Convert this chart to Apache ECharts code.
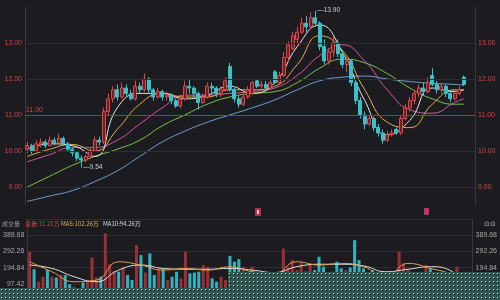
<!DOCTYPE html>
<html><head><meta charset="utf-8">
<script src="https://cdn.jsdelivr.net/npm/echarts@6/dist/echarts.min.js"></script>
<style>html,body{margin:0;padding:0;background:#1c1c20}#c{width:500px;height:300px}</style>
</head><body><div id="c"></div>
<script>
// ---- data ----
// candles: [open, close, low, high]
const candles = [
[10.05,10.15,9.95,10.25],[10.15,10.0,9.92,10.2],[10.0,10.2,9.98,10.3],[10.2,10.25,10.1,10.35],
[10.25,10.15,10.08,10.32],[10.15,10.3,10.12,10.4],[10.3,10.22,10.15,10.38],[10.22,10.35,10.18,10.48],
[10.35,10.2,10.15,10.4],[10.2,10.05,9.98,10.25],[10.05,9.95,9.85,10.1],[9.95,9.8,9.72,10.0],
[9.8,9.75,9.54,9.88],[9.75,9.85,9.68,9.9],[9.85,10.0,9.8,10.1],[10.0,10.3,9.98,10.4],
[10.3,10.25,10.15,10.4],[10.25,11.1,10.2,11.2],[11.1,11.45,11.0,11.6],[11.45,11.7,11.35,11.8],
[11.7,11.5,11.4,11.85],[11.5,11.75,11.45,11.9],[11.75,11.6,11.5,11.85],[11.6,11.45,11.4,11.7],
[11.45,11.8,11.4,11.95],[11.8,11.7,11.6,11.9],[11.7,12.0,11.65,12.15],[12.0,11.7,11.6,12.05],
[11.7,11.5,11.4,11.75],[11.5,11.65,11.45,11.75],[11.65,11.5,11.4,11.7],[11.5,11.55,11.4,11.65],
[11.55,11.4,11.3,11.6],[11.4,11.25,11.2,11.45],[11.25,11.45,11.2,11.5],[11.45,11.8,11.4,11.95],
[11.8,11.75,11.6,12.0],[11.75,11.6,11.5,11.8],[11.6,11.35,11.15,11.65],[11.35,11.5,11.3,11.6],
[11.5,11.8,11.45,11.9],[11.8,11.75,11.6,11.9],[11.75,11.6,11.5,11.8],[11.6,11.7,11.5,11.8],
[11.7,11.95,11.65,12.05],[12.35,11.7,11.65,12.45],[11.7,11.45,11.35,11.75],[11.45,11.3,11.2,11.55],
[11.3,11.5,11.25,11.6],[11.5,11.7,11.45,11.8],[11.6,11.9,11.55,11.95],[11.95,11.8,11.75,12.0],
[11.8,11.85,11.7,11.95],[11.85,11.75,11.7,11.95],[11.75,11.9,11.7,12.0],[12.2,11.9,11.85,12.25],
[11.9,12.1,11.85,12.2],[12.1,12.6,12.05,12.75],[12.6,12.95,12.5,13.05],[12.85,13.2,12.8,13.3],
[13.1,13.3,13.0,13.45],[13.3,13.55,13.25,13.7],[13.55,13.45,13.3,13.75],[13.45,13.7,13.4,13.85],
[13.7,13.55,13.45,13.9],[13.55,12.9,12.8,13.6],[12.9,12.5,12.4,13.1],[12.5,12.75,12.4,12.85],
[12.75,13.0,12.6,13.2],[13.0,12.7,12.6,13.1],[12.7,12.4,12.3,12.8],[12.4,12.5,12.2,12.6],
[12.5,11.9,11.8,12.55],[11.9,11.4,11.3,12.0],[11.4,11.0,10.9,11.5],[11.0,10.75,10.6,11.1],
[10.75,10.9,10.7,11.0],[10.9,10.65,10.55,10.95],[10.65,10.5,10.4,10.75],[10.5,10.3,10.2,10.6],
[10.3,10.45,10.25,10.55],[10.45,10.5,10.4,10.6],[10.6,10.5,10.45,10.65],[10.5,10.9,10.45,11.0],
[10.9,11.2,10.85,11.3],[11.2,11.4,11.1,11.5],[11.4,11.6,11.3,11.7],[11.6,11.75,11.5,11.85],
[11.75,11.65,11.55,11.9],[11.65,11.9,11.6,12.05],[12.1,11.85,11.8,12.3],[11.85,11.7,11.6,11.95],
[11.7,11.8,11.6,11.9],[11.8,11.6,11.5,11.85],[11.6,11.45,11.35,11.65],[11.45,11.6,11.4,11.7],
[11.6,11.7,11.55,11.8],[12.05,11.85,11.8,12.1]
];
const volumes = [
290,185,110,140,180,140,135,150,150,95,75,60,105,120,255,135,140,400,215,175,
170,200,150,120,330,270,165,280,150,190,185,120,140,170,130,290,160,165,170,210,
200,130,110,140,120,265,230,245,200,120,200,130,110,100,120,150,170,310,200,240,
180,225,170,220,180,260,200,150,170,230,190,180,195,360,240,190,170,180,160,150,
130,120,140,290,220,180,160,150,140,210,190,130,120,110,140,100,200,71
];
// moving averages read at sampled candle indices: [index, value]
const ma5 = [[0,10.05],[5,10.2],[10,10.15],[15,9.85],[20,11.2],[25,11.6],[30,11.6],[35,11.45],[40,11.55],[45,11.8],[50,11.6],[55,11.9],[60,12.9],[65,13.5],[70,12.75],[75,11.4],[80,10.45],[85,10.85],[90,11.75],[95,11.65],[97,11.7]];
const ma10 = [[0,9.85],[5,10.05],[10,10.18],[15,10.0],[20,10.6],[25,11.3],[30,11.6],[35,11.5],[40,11.5],[45,11.7],[50,11.7],[55,11.8],[60,12.4],[65,13.2],[70,12.8],[75,11.7],[80,10.8],[85,10.65],[90,11.3],[95,11.7],[97,11.7]];
const ma20 = [[0,9.7],[5,9.9],[10,10.1],[15,10.1],[20,10.3],[25,10.75],[30,11.2],[35,11.55],[40,11.55],[45,11.6],[50,11.65],[55,11.75],[60,12.1],[65,12.65],[70,12.95],[75,12.5],[80,11.7],[85,11.15],[90,11.05],[95,11.35],[97,11.45]];
const ma30 = [[0,9.0],[5,9.3],[10,9.6],[15,9.85],[20,10.05],[25,10.3],[30,10.7],[35,11.0],[40,11.3],[45,11.5],[50,11.6],[55,11.65],[60,11.9],[65,12.3],[70,12.55],[75,12.45],[80,12.15],[85,11.75],[90,11.45],[95,11.3],[97,11.3]];
const ma60 = [[0,8.6],[5,8.75],[10,8.9],[15,9.15],[20,9.45],[25,9.85],[30,10.25],[35,10.55],[40,10.8],[45,11.0],[50,11.2],[55,11.42],[60,11.7],[65,11.95],[70,12.05],[75,12.08],[80,12.0],[85,11.93],[90,11.88],[95,11.85],[97,11.83]];
const volMa5 = [[0,230],[5,170],[10,110],[15,120],[20,230],[25,210],[30,180],[35,190],[40,180],[45,200],[50,170],[55,160],[60,230],[65,210],[70,220],[75,200],[80,140],[85,220],[90,190],[95,150],[97,102.26]];
const volMa10 = [[0,210],[5,190],[10,140],[15,110],[20,180],[25,210],[30,190],[35,185],[40,185],[45,190],[50,180],[55,165],[60,200],[65,215],[70,215],[75,205],[80,170],[85,185],[90,200],[95,170],[97,94.26]];
const priceGridLevels = [9, 10, 12, 13];
const keyLevel = 11;
const priceMin = 8.5, priceMax = 14, priceStep = 0.5;
const volMax = 487.1, volStep = 97.42;
const slotCount = 100;
const categories = Array.from({length: slotCount}, (_, i) => String(i + 1));
const volHeader = [
  {text: '成交量', color: '#9a9a9a'},
  {text: '总量:71.21万', color: '#d24a4f'},
  {text: 'MA5:102.26万', color: '#d9b44a'},
  {text: 'MA10:94.26万', color: '#dddddd'}
];

// ---- styles ----
const UP = '#e0474c', UPFILL = '#6a2226', DOWN = '#36c2c8';
const GRIDC = '#2c2c31', AXISC = '#3a3a40';
const NUMFONT = 'Liberation Sans';

let hiIdx = 0, loIdx = 0;
candles.forEach((c, i) => { if (c[3] > candles[hiIdx][3]) hiIdx = i; if (c[2] < candles[loIdx][2]) loIdx = i; });

const priceLabel = {
  fontSize: 7, color: '#c9484c', fontFamily: NUMFONT, margin: 3,
  formatter: v => (Math.abs(v - Math.round(v)) < 1e-6 && v >= 9 && v <= 13) ? v.toFixed(2) : ''
};
const volLabel = {
  fontSize: 7, color: '#a8a8a8', fontFamily: NUMFONT, margin: 3,
  formatter: v => (v > 1 && v < volMax - 1) ? v.toFixed(2) : ''
};

const tile = document.createElement('canvas'); tile.width = 4; tile.height = 4;
const tg = tile.getContext('2d');
tg.fillStyle = '#2d5854'; tg.fillRect(0, 0, 4, 4);
tg.fillStyle = '#d9e6e2'; tg.fillRect(1, 1, 1, 1);
tg.fillStyle = '#0e1c1a'; tg.fillRect(2, 2, 1, 1);

const headerGraphics = [];
const hLefts = [2, 25, 61, 103];
volHeader.forEach((h, i) => {
  headerGraphics.push({type: 'text', left: hLefts[i], top: 220.5, style: {text: h.text, fill: h.color, fontSize: 6, fontFamily: 'Noto Sans CJK SC'}, z: 50});
});

const lineS = (name, data, color, xi, yi) => ({
  name, type: 'line', data, xAxisIndex: xi, yAxisIndex: yi, smooth: true, symbol: 'none',
  lineStyle: {color, width: 1}, silent: true, z: 3
});

const chart = echarts.init(document.getElementById('c'), null, {renderer: 'canvas'});
chart.setOption({
  backgroundColor: '#1c1c20',
  animation: false,
  grid: [
    {left: 25, right: 25, top: 7, height: 198},
    {left: 25, right: 25, top: 219, height: 81}
  ],
  xAxis: [
    {type: 'category', data: categories, gridIndex: 0, boundaryGap: true,
     axisLine: {show: false}, axisTick: {show: false}, axisLabel: {show: false}, splitLine: {show: false}},
    {type: 'category', data: categories, gridIndex: 1, boundaryGap: true, position: 'top',
     axisLine: {show: true, lineStyle: {color: AXISC}}, axisTick: {show: false}, axisLabel: {show: false}, splitLine: {show: false}}
  ],
  yAxis: [
    {type: 'value', gridIndex: 0, min: priceMin, max: priceMax, interval: priceStep, position: 'left',
     axisLine: {show: true, lineStyle: {color: AXISC}}, axisTick: {show: false}, splitLine: {show: false}, axisLabel: priceLabel},
    {type: 'value', gridIndex: 0, min: priceMin, max: priceMax, interval: priceStep, position: 'right',
     axisLine: {show: true, lineStyle: {color: AXISC}}, axisTick: {show: false}, splitLine: {show: false}, axisLabel: priceLabel},
    {type: 'value', gridIndex: 1, min: 0, max: volMax, interval: volStep, position: 'left',
     axisLine: {show: true, lineStyle: {color: AXISC}}, axisTick: {show: false},
     splitLine: {show: true, lineStyle: {color: GRIDC}}, axisLabel: volLabel},
    {type: 'value', gridIndex: 1, min: 0, max: volMax, interval: volStep, position: 'right',
     axisLine: {show: true, lineStyle: {color: AXISC}}, axisTick: {show: false}, splitLine: {show: false}, axisLabel: volLabel}
  ],
  graphic: [
    ...headerGraphics,
    {type: 'text', left: 484, top: 221, style: {text: '⊙⊙', fill: '#bbbbbb', fontSize: 7}, z: 50},
    {type: 'rect', shape: {x: 255, y: 208, width: 6, height: 8, r: 1}, style: {fill: '#b8324a'}, z: 50},
    {type: 'rect', shape: {x: 257, y: 210, width: 2, height: 4}, style: {fill: '#f0c0c8'}, z: 51},
    {type: 'rect', shape: {x: 424, y: 208, width: 5, height: 7, r: 1}, style: {fill: '#c0386a'}, z: 50},
    {type: 'rect', shape: {x: 0, y: 288, width: 228, height: 12}, style: {fill: {image: tile, repeat: 'repeat'}}, z: 100},
    {type: 'rect', shape: {x: 228, y: 272, width: 272, height: 28}, style: {fill: {image: tile, repeat: 'repeat'}}, z: 100}
  ],
  series: [
    {
      name: 'K', type: 'candlestick', xAxisIndex: 0, yAxisIndex: 0, data: candles,
      barWidth: '72%',
      itemStyle: {color: UPFILL, color0: DOWN, borderColor: UP, borderColor0: DOWN, borderWidth: 1},
      z: 4,
      markLine: {
        silent: true, symbol: ['none', 'none'],
        data: [
          ...priceGridLevels.map(v => ({yAxis: v, lineStyle: {color: GRIDC, type: 'solid', width: 1}, label: {show: false}})),
          {yAxis: keyLevel, lineStyle: {color: '#a3343a', type: 'solid', width: 1},
           label: {show: true, position: 'insideStartTop', formatter: keyLevel.toFixed(2), color: '#c9484c', fontSize: 7, fontFamily: NUMFONT, distance: 1}}
        ]
      },
      markPoint: {
        symbol: 'circle', symbolSize: 0, silent: true,
        data: [
          {coord: [hiIdx, candles[hiIdx][3]], label: {show: true, position: 'right', formatter: '—' + candles[hiIdx][3].toFixed(2), color: '#cfcfcf', fontSize: 6.5, fontFamily: NUMFONT, distance: 2}},
          {coord: [loIdx, candles[loIdx][2]], label: {show: true, position: 'right', formatter: '—' + candles[loIdx][2].toFixed(2), color: '#cfcfcf', fontSize: 6.5, fontFamily: NUMFONT, distance: 2}}
        ]
      }
    },
    lineS('MA60', ma60, '#6e9fd6', 0, 0),
    lineS('MA30', ma30, '#7cc44c', 0, 0),
    lineS('MA20', ma20, '#d35a9e', 0, 0),
    lineS('MA10', ma10, '#e3ad48', 0, 0),
    lineS('MA5', ma5, '#e8e8e8', 0, 0),
    {
      name: 'VOL', type: 'bar', xAxisIndex: 1, yAxisIndex: 2, barWidth: '68%',
      data: volumes.map((v, i) => ({value: v, itemStyle: {color: candles[i][1] >= candles[i][0] ? '#9c2e35' : '#2fb3be'}})),
      z: 2
    },
    lineS('VMA10', volMa10, '#e0e0e0', 1, 2),
    lineS('VMA5', volMa5, '#e0a04a', 1, 2)
  ]
});
</script>
</body></html>
